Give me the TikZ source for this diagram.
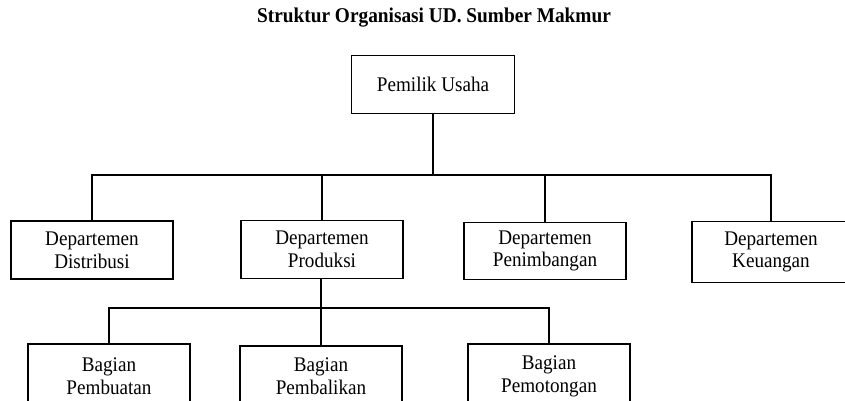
\documentclass[tikz,border=0pt]{standalone}
\usepackage{fontspec}
\setmainfont[FakeStretch=0.92]{Liberation Serif}
\begin{document}
\begin{tikzpicture}[x=1pt,y=-1pt,
  kotak/.style={draw, line width=1.3pt, align=center, inner sep=0pt,
    font=\fontsize{20.8}{22.8}\selectfont},
  garis/.style={line width=1.4pt}]
\useasboundingbox (0,0) rectangle (845,401);
  % Judul
  \node[font=\fontsize{21}{24}\selectfont\bfseries] (judul) at (434,18) {Struktur Organisasi UD. Sumber Makmur};
  % Pemilik
  \node[kotak, minimum width=163pt, minimum height=58pt] (pemilik) at (433,84.5) {Pemilik Usaha};
  % Departemen
  \node[kotak, minimum width=162pt, minimum height=58pt] (distribusi) at (92,250) {Departemen\\Distribusi};
  \node[kotak, minimum width=162pt, minimum height=58pt] (produksi) at (322,249.5) {Departemen\\Produksi};
  \node[kotak, minimum width=162pt, minimum height=57pt] (penimbangan) at (545,251) {Departemen\\Penimbangan};
  \node[kotak, minimum width=158pt, minimum height=61pt] (keuangan) at (771,252) {Departemen\\Keuangan};
  % Bagian
  \node[kotak, minimum width=162pt, minimum height=64pt] (pembuatan) at (109,376) {Bagian\\Pembuatan};
  \node[kotak, minimum width=162pt, minimum height=60pt] (pembalikan) at (321,376) {Bagian\\Pembalikan};
  \node[kotak, minimum width=162pt, minimum height=64pt] (pemotongan) at (549,376) {Bagian\\Pemotongan};
  % Garis
  \coordinate (cabang) at (433,175);
  \coordinate (cabangb) at (321,308);
  \draw[garis] (pemilik.south) -- (cabang);
  \foreach \n in {distribusi,produksi,penimbangan,keuangan}
    \draw[garis] (cabang) -| (\n.north);
  \draw[garis] (produksi.south -| cabangb) -- (cabangb);
  \foreach \n in {pembuatan,pembalikan,pemotongan}
    \draw[garis] (cabangb) -| (\n.north);
\end{tikzpicture}
\end{document}
